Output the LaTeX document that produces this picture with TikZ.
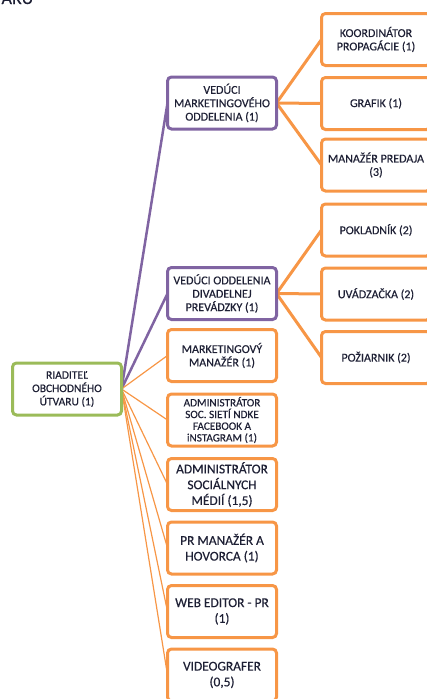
\documentclass[tikz,border=0pt]{standalone}
\usepackage{fontspec}
\setmainfont{Carlito}[FakeBold=0.35]
\usetikzlibrary{backgrounds}
\definecolor{orng}{HTML}{F79646}
\definecolor{purp}{HTML}{8064A2}
\definecolor{grn}{HTML}{9BBB59}
\definecolor{txt}{HTML}{1E2035}
\tikzset{
  box/.style={draw, fill=white, rounded corners=4pt, line width=3pt, minimum width=109pt, minimum height=52pt, inner sep=0pt, outer sep=0pt, align=center, text=txt},
  obox/.style={box, draw=orng},
  pbox/.style={box, draw=purp},
  gbox/.style={box, draw=grn},
  sm/.style={font=\fontsize{12}{13.4}\selectfont},
  rt/.style={font=\fontsize{11.5}{13.3}\selectfont},
  bg/.style={font=\fontsize{13.4}{15.8}\selectfont},
  xs/.style={font=\fontsize{11.2}{11.7}\selectfont},
  pline/.style={draw=purp, line width=2.5pt},
  othin/.style={draw=orng, line width=1.2pt},
  othick/.style={draw=orng, line width=3pt},
}
\begin{document}
\begin{tikzpicture}[x=1pt,y=-1pt]
\useasboundingbox (0,0) rectangle (427,699);
\node[anchor=base west, text=txt, font=\fontsize{18}{20}\selectfont] (hdr) at (-2,4) {ARU};
\node[gbox, rt] (root) at (67,389) {RIADITEĽ\\OBCHODNÉHO\\ÚTVARU (1)};
\node[pbox, sm] (vm) at (222,103) {VEDÚCI\\MARKETINGOVÉHO\\ODDELENIA (1)};
\node[pbox, sm] (vd) at (222,293.5) {VEDÚCI ODDELENIA\\DIVADELNEJ\\PREVÁDZKY (1)};
\node[obox, sm] (mm) at (222,355.5) {MARKETINGOVÝ\\MANAŽÉR (1)};
\node[obox, xs] (as) at (222,420) {ADMINISTRÁTOR\\SOC. SIETÍ NDKE\\FACEBOOK A\\iNSTAGRAM (1)};
\node[obox, bg] (asm) at (222,484.5) {ADMINISTRÁTOR\\SOCIÁLNYCH\\MÉDIÍ (1,5)};
\node[obox, bg] (pr) at (222,548) {PR MANAŽÉR A\\HOVORCA (1)};
\node[obox, bg] (web) at (222,611.5) {WEB EDITOR - PR\\(1)};
\node[obox, bg] (vid) at (222,675) {VIDEOGRAFER\\(0,5)};
\node[obox, sm] (ko) at (376,39.5) {KOORDINÁTOR\\PROPAGÁCIE (1)};
\node[obox, sm] (gr) at (376,103.5) {GRAFIK (1)};
\node[obox, sm] (mp) at (376,165) {MANAŽÉR PREDAJA\\(3)};
\node[obox, sm] (po) at (376,230) {POKLADNÍK (2)};
\node[obox, sm] (uv) at (376,294) {UVÁDZAČKA (2)};
\node[obox, sm] (pz) at (376,357.5) {POŽIARNIK (2)};
\begin{scope}[on background layer]
\draw[pline] (root.east) -- (vm.west);
\draw[pline] (root.east) -- (vd.west);
\foreach \n in {mm,as,asm,pr,web,vid} \draw[othin] (root.east) -- (\n.west);
\foreach \n in {ko,gr,mp} \draw[othick] (vm.east) -- (\n.west);
\foreach \n in {po,uv,pz} \draw[othick] (vd.east) -- (\n.west);
\end{scope}
\end{tikzpicture}
\end{document}
